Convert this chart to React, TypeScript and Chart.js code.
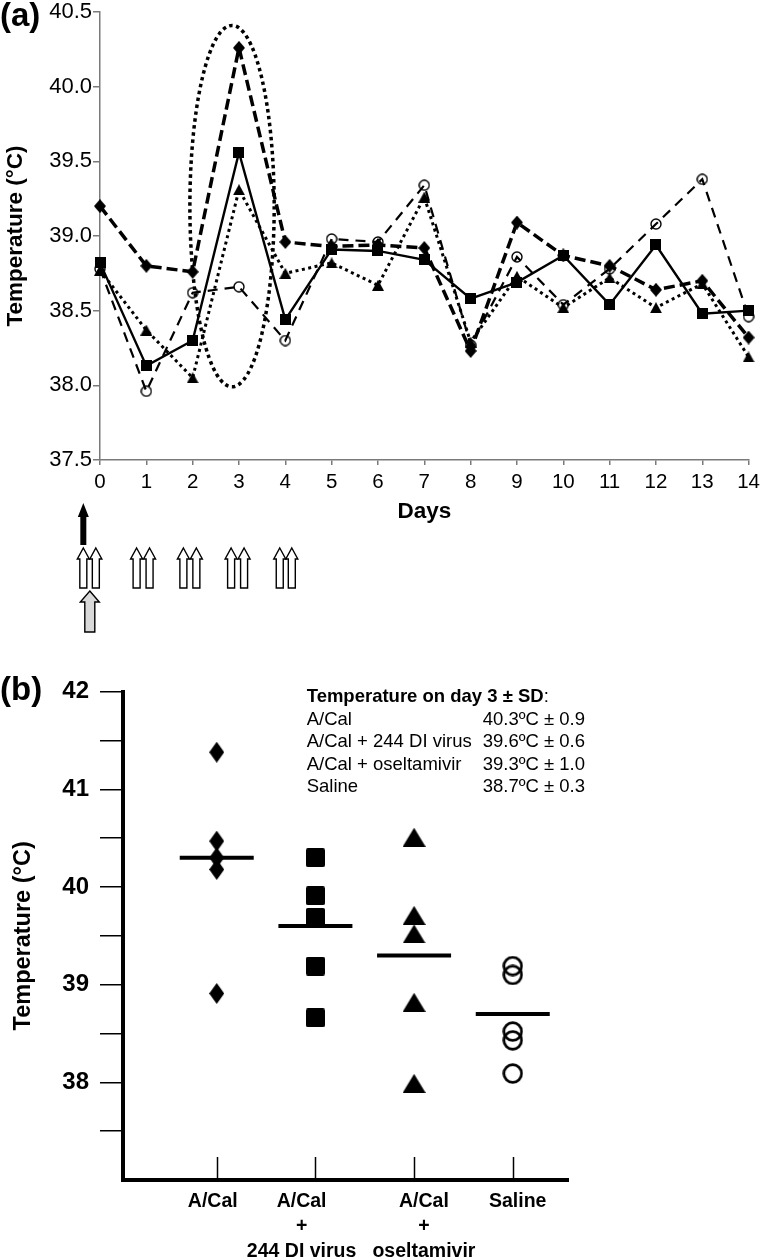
import React, { useEffect, useRef } from 'react';
import { Chart, registerables } from 'chart.js';
Chart.register(...registerables);

// ---------- Panel (a): daily temperature ----------
const days = [0, 1, 2, 3, 4, 5, 6, 7, 8, 9, 10, 11, 12, 13, 14];
const tempACal = [39.2, 38.8, 38.76, 40.26, 38.96, 38.93, 38.94, 38.92, 38.23, 39.09, 38.87, 38.8, 38.64, 38.7, 38.32];
const tempACalDI = [38.82, 38.13, 38.3, 39.56, 38.44, 38.91, 38.9, 38.84, 38.58, 38.69, 38.87, 38.54, 38.94, 38.48, 38.5];
const tempACalOsel = [38.77, 38.37, 38.05, 39.31, 38.75, 38.82, 38.67, 39.26, 38.29, 38.73, 38.52, 38.72, 38.52, 38.68, 38.19];
const tempSaline = [38.78, 37.96, 38.62, 38.66, 38.3, 38.98, 38.96, 39.34, 38.27, 38.86, 38.54, 38.78, 39.08, 39.38, 38.46];
const yMinA = 37.5;
const yMaxA = 40.5;
const yStepA = 0.5;

// dotted ellipse highlighting day-3 fever (data units)
const feverEllipse = { day: 2.85, temp: 39.2, dayRadius: 0.91, tempRadius: 1.21 };
// treatment arrows under the day axis (day positions)
const infectionArrowDay = -0.36;
const dosingArrowDays = [-0.36, -0.09, 0.79, 1.07, 1.8, 2.08, 2.83, 3.11, 3.88, 4.14];
const diVirusArrowDay = -0.22;

// ---------- Panel (b): day-3 temperatures ----------
const groupLabels = [['A/Cal'], ['A/Cal', '+', '244 DI virus'], ['A/Cal', '+', 'oseltamivir'], ['Saline']];
const groupLabelAt = [0.96, 1.86, 3.1, 4.05];
const day3ACal = [41.38, 40.47, 40.3, 40.18, 38.91];
const day3ACalDI = [40.3, 39.91, 39.69, 39.19, 38.66];
const day3ACalOsel = [40.51, 39.71, 39.52, 38.82, 37.99];
const day3Saline = [39.19, 39.1, 38.52, 38.43, 38.09];
const day3Means = [40.3, 39.6, 39.3, 38.7];
const yTicksB = [37.5, 38, 38.5, 39, 39.5, 40, 40.5, 41, 41.5, 42];
const summaryTitle = 'Temperature on day 3 ± SD';
const summaryGroups = ['A/Cal', 'A/Cal + 244 DI virus', 'A/Cal + oseltamivir', 'Saline'];
const summaryValues = ['40.3ºC ± 0.9', '39.6ºC ± 0.6', '39.3ºC ± 1.0', '38.7ºC ± 0.3'];

const FONT = 'Arial, "Liberation Sans", Helvetica, sans-serif';
const GREY = '#7a7a7a';

function marker(w: number, h: number, paint: (c: CanvasRenderingContext2D) => void) {
  const cv = document.createElement('canvas');
  cv.width = w;
  cv.height = h;
  const c = cv.getContext('2d')!;
  c.fillStyle = '#000';
  c.strokeStyle = '#000';
  paint(c);
  return cv;
}
const diamond = (w: number, h: number) =>
  marker(w, h, (c) => {
    c.beginPath();
    c.moveTo(w / 2, 0);
    c.lineTo(w, h / 2);
    c.lineTo(w / 2, h);
    c.lineTo(0, h / 2);
    c.closePath();
    c.fill();
  });
const square = (s: number, r: number) =>
  marker(s, s, (c) => {
    c.beginPath();
    if ((c as any).roundRect) (c as any).roundRect(0, 0, s, s, r);
    else c.rect(0, 0, s, s);
    c.fill();
  });
const triangle = (w: number, h: number) =>
  marker(w, h, (c) => {
    c.beginPath();
    c.moveTo(w / 2, 0);
    c.lineTo(w, h);
    c.lineTo(0, h);
    c.closePath();
    c.fill();
  });
const ring = (d: number, lw: number) =>
  marker(d, d, (c) => {
    c.lineWidth = lw;
    c.beginPath();
    c.arc(d / 2, d / 2, d / 2 - lw / 2 - 0.3, 0, Math.PI * 2);
    c.stroke();
  });

function drawArrow(
  ctx: CanvasRenderingContext2D,
  cx: number,
  top: number,
  bottom: number,
  headW: number,
  headH: number,
  shaftW: number,
  fill: string,
  stroke: string | null
) {
  ctx.beginPath();
  ctx.moveTo(cx, top);
  ctx.lineTo(cx + headW / 2, top + headH);
  ctx.lineTo(cx + shaftW / 2, top + headH);
  ctx.lineTo(cx + shaftW / 2, bottom);
  ctx.lineTo(cx - shaftW / 2, bottom);
  ctx.lineTo(cx - shaftW / 2, top + headH);
  ctx.lineTo(cx - headW / 2, top + headH);
  ctx.closePath();
  ctx.fillStyle = fill;
  ctx.fill();
  if (stroke) {
    ctx.strokeStyle = stroke;
    ctx.lineWidth = 1.4;
    ctx.lineJoin = 'miter';
    ctx.stroke();
  }
}

const panelAPlugin = {
  id: 'panelA',
  afterDatasetsDraw(chart: any) {
    const { ctx, scales } = chart;
    const xs = scales.x;
    const ys = scales.y;
    const cx = xs.getPixelForValue(feverEllipse.day);
    const cy = ys.getPixelForValue(feverEllipse.temp);
    const rx = Math.abs(xs.getPixelForValue(feverEllipse.day + feverEllipse.dayRadius) - cx);
    const ry = Math.abs(ys.getPixelForValue(feverEllipse.temp + feverEllipse.tempRadius) - cy);
    ctx.save();
    ctx.strokeStyle = '#000';
    ctx.lineWidth = 3.5;
    ctx.setLineDash([3.5, 3.5]);
    ctx.beginPath();
    ctx.ellipse(cx, cy, rx, ry, 0, 0, Math.PI * 2);
    ctx.stroke();
    ctx.restore();
  },
  afterDraw(chart: any) {
    const { ctx, scales, chartArea } = chart;
    const xs = scales.x;
    const b = chartArea.bottom;
    ctx.save();
    ctx.fillStyle = '#000';
    ctx.font = `bold 33px ${FONT}`;
    ctx.textAlign = 'left';
    ctx.textBaseline = 'alphabetic';
    ctx.fillText('(a)', 0, 26);
    // infection arrow
    drawArrow(ctx, xs.getPixelForValue(infectionArrowDay), b + 43, b + 85, 11, 14, 6, '#000', null);
    // dosing arrows
    dosingArrowDays.forEach((d) => {
      drawArrow(ctx, xs.getPixelForValue(d), b + 88, b + 128, 12, 11, 7, '#fff', '#000');
    });
    // DI virus arrow
    drawArrow(ctx, xs.getPixelForValue(diVirusArrowDay), b + 131, b + 172, 19, 11, 10, '#d9d9d9', '#000');
    ctx.restore();
  },
};

const panelBPlugin = {
  id: 'panelB',
  afterDraw(chart: any) {
    const { ctx, scales, chartArea } = chart;
    const xs = scales.x;
    ctx.save();
    ctx.strokeStyle = '#000';
    ctx.lineWidth = 1.5;
    groupLabels.forEach((_, i) => {
      const px = Math.round(xs.getPixelForValue(i + 1)) + 0.5;
      ctx.beginPath();
      ctx.moveTo(px, chartArea.bottom - 23);
      ctx.lineTo(px, chartArea.bottom);
      ctx.stroke();
    });
    ctx.fillStyle = '#000';
    ctx.font = `bold 33px ${FONT}`;
    ctx.textAlign = 'left';
    ctx.textBaseline = 'alphabetic';
    ctx.fillText('(b)', 0, 60);

    const x0 = 306.7;
    const x1 = 482.7;
    const y0 = 57;
    const step = 22.5;
    ctx.textBaseline = 'middle';
    ctx.font = `bold 18.5px ${FONT}`;
    ctx.fillText(summaryTitle, x0, y0);
    const w = ctx.measureText(summaryTitle).width;
    ctx.font = `18.5px ${FONT}`;
    ctx.fillText(':', x0 + w, y0);
    summaryGroups.forEach((g, i) => {
      ctx.fillText(g, x0, y0 + step * (i + 1));
      ctx.fillText(summaryValues[i], x1, y0 + step * (i + 1));
    });
    ctx.restore();
  },
};

export default function App() {
  const refA = useRef<HTMLCanvasElement>(null);
  const refB = useRef<HTMLCanvasElement>(null);

  useEffect(() => {
    Chart.defaults.font.family = FONT;
    Chart.defaults.color = '#000';

    const mA = {
      diamond: diamond(12, 14),
      square: square(11, 0),
      triangle: triangle(12, 11),
      ring: ring(12, 1.4),
    };
    const mB = {
      diamond: diamond(15, 21),
      square: square(19, 2),
      triangle: triangle(23, 19),
      ring: ring(21, 2.7),
    };

    const pts = (arr: number[]) => days.map((d, i) => ({ x: d, y: arr[i] }));
    const lineDs = (arr: number[], style: any, width: number, dash: number[]) => ({
      data: pts(arr),
      borderColor: '#000',
      backgroundColor: '#000',
      borderWidth: width,
      borderDash: dash,
      tension: 0,
      pointStyle: style,
      pointRadius: 7,
      clip: false as any,
    });

    const chartA = new Chart(refA.current!, {
      type: 'line',
      data: {
        datasets: [
          lineDs(tempACalDI, mA.square, 2.4, []),
          lineDs(tempACal, mA.diamond, 3.5, [11, 5]),
          lineDs(tempACalOsel, mA.triangle, 3, [3, 3.5]),
          lineDs(tempSaline, mA.ring, 2.2, [10, 7]),
        ],
      },
      options: {
        responsive: false,
        animation: false,
        events: [],
        layout: { padding: { top: 10.7, right: 12, bottom: 110, left: 0 } },
        plugins: { legend: { display: false }, tooltip: { enabled: false } },
        scales: {
          x: {
            type: 'linear',
            min: days[0],
            max: days[days.length - 1],
            ticks: { stepSize: 1, font: { size: 20.5 }, padding: 5, color: '#000', maxRotation: 0, autoSkip: false },
            grid: { drawOnChartArea: false, drawTicks: true, tickLength: 5, color: GREY, lineWidth: 1.5 },
            border: { display: true, color: GREY, width: 1.5 },
            title: { display: true, text: 'Days', font: { size: 22.5, weight: 'bold' }, padding: { top: 0, bottom: 5 }, color: '#000' },
            afterFit: (s: any) => {
              s.height = 70;
            },
          },
          y: {
            min: yMinA,
            max: yMaxA,
            ticks: {
              stepSize: yStepA,
              callback: (v: any) => Number(v).toFixed(1),
              font: { size: 22, lineHeight: 1 },
              padding: 1,
              color: '#000',
            },
            grid: { drawOnChartArea: false, drawTicks: true, tickLength: 7, color: GREY, lineWidth: 1.5 },
            border: { display: true, color: GREY, width: 1.5 },
            title: { display: true, text: 'Temperature (°C)', font: { size: 22.5, weight: 'bold' }, padding: { top: 2, bottom: 0 }, color: '#000' },
            afterFit: (s: any) => {
              s.width = 100;
            },
          },
        },
      } as any,
      plugins: [panelAPlugin],
    });

    const groupPts = (arr: number[], gi: number) => arr.map((v) => ({ x: gi + 1, y: v }));
    const meanDs = day3Means.map((m, i) => ({
      data: [
        { x: i + 1 - 0.375, y: m },
        { x: i + 1 + 0.375, y: m },
      ],
      showLine: true,
      borderColor: '#000',
      borderWidth: 4,
      pointRadius: 0,
      clip: false as any,
    }));
    const ptDs = (arr: number[], gi: number, style: any) => ({
      data: groupPts(arr, gi),
      pointStyle: style,
      pointRadius: 11,
      borderColor: '#000',
      backgroundColor: '#000',
      clip: false as any,
    });

    const chartB = new Chart(refB.current!, {
      type: 'scatter',
      data: {
        datasets: [
          ...meanDs,
          ptDs(day3ACal, 0, mB.diamond),
          ptDs(day3ACalDI, 1, mB.square),
          ptDs(day3ACalOsel, 2, mB.triangle),
          ptDs(day3Saline, 3, mB.ring),
        ] as any,
      },
      options: {
        responsive: false,
        animation: false,
        events: [],
        layout: { padding: { top: 51.7, right: 197, bottom: 0, left: 0 } },
        plugins: { legend: { display: false }, tooltip: { enabled: false } },
        scales: {
          x: {
            type: 'linear',
            min: 0.05,
            max: 4.56,
            afterBuildTicks: (s: any) => {
              s.ticks = groupLabelAt.map((v) => ({ value: v }));
            },
            ticks: {
              callback: (v: any) => {
                const i = groupLabelAt.findIndex((p) => Math.abs(p - Number(v)) < 1e-6);
                return i >= 0 ? groupLabels[i] : '';
              },
              font: { size: 19.5, weight: 'bold', lineHeight: 1.3 },
              padding: 8.5,
              color: '#000',
              maxRotation: 0,
              autoSkip: false,
            },
            grid: { drawOnChartArea: false, drawTicks: false },
            border: { display: true, color: '#000', width: 4 },
            afterFit: (s: any) => {
              s.height = 80;
            },
          },
          y: {
            min: 37,
            max: 42,
            afterBuildTicks: (s: any) => {
              s.ticks = yTicksB.map((v) => ({ value: v }));
            },
            ticks: {
              callback: (v: any) => (Number.isInteger(Number(v)) ? String(v) : ''),
              font: { size: 24, weight: 'bold' },
              padding: 11,
              color: '#000',
              autoSkip: false,
            },
            grid: { drawOnChartArea: false, drawTicks: true, tickLength: 23, color: '#000', lineWidth: 1.5 },
            border: { display: true, color: '#000', width: 4 },
            title: { display: true, text: 'Temperature (°C)', font: { size: 23.5, weight: 'bold' }, padding: { top: 9, bottom: 0 }, color: '#000' },
            afterFit: (s: any) => {
              s.width = 123;
            },
          },
        },
      } as any,
      plugins: [panelBPlugin],
    });

    return () => {
      chartA.destroy();
      chartB.destroy();
    };
  }, []);

  return (
    <div style={{ position: 'absolute', left: 0, top: 0, width: 765, height: 1260, background: '#fff' }}>
      <canvas ref={refA} width={765} height={640} style={{ position: 'absolute', left: 0, top: 0 }} />
      <canvas ref={refB} width={765} height={620} style={{ position: 'absolute', left: 0, top: 640 }} />
    </div>
  );
}
